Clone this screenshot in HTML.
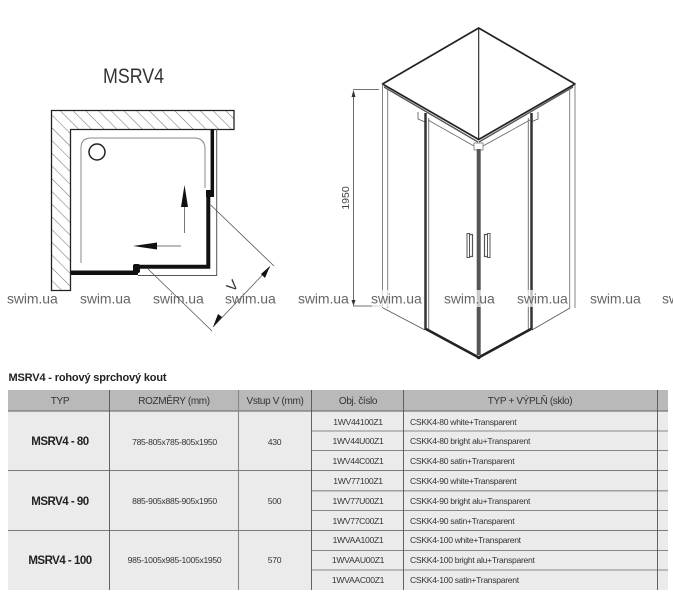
<!DOCTYPE html>
<html><head><meta charset="utf-8">
<style>
html,body{margin:0;padding:0;background:#fff;width:673px;height:600px;overflow:hidden}
svg{display:block}
text{font-family:"Liberation Sans",sans-serif}
.h{font-size:10px;fill:#333;text-anchor:middle;letter-spacing:-.35px}
.c{font-size:8.6px;fill:#333;text-anchor:middle;letter-spacing:-.3px}
.l{font-size:8.6px;fill:#333;letter-spacing:-.3px}
.b{font-size:11.5px;font-weight:bold;fill:#222;text-anchor:middle;letter-spacing:-.5px}
.w{font-size:14px;fill:#666;letter-spacing:-.1px}
</style></head><body>
<svg width="673" height="600" viewBox="0 0 673 600" xmlns="http://www.w3.org/2000/svg">
<defs>
<pattern id="hatch" width="9" height="9" patternUnits="userSpaceOnUse" patternTransform="rotate(-45)">
<rect width="9" height="9" fill="#fff"/><line x1="0" y1="0" x2="0" y2="9" stroke="#777" stroke-width="1.100"/>
</pattern>
</defs>
<text x="133.500" y="83" font-size="21" fill="#333" text-anchor="middle" textLength="61" lengthAdjust="spacingAndGlyphs">MSRV4</text>

<!-- plan -->
<path d="M51.500 110.500H234V129.500H70.500V290.500H51.500Z" fill="url(#hatch)" stroke="#222" stroke-width="1.300"/>
<path d="M81 263V148Q81 138 91 138H194Q205 138 205 149V188" fill="none" stroke="#888" stroke-width="1"/>
<circle cx="97" cy="152" r="8" fill="#fff" stroke="#222" stroke-width="1.500"/>
<path d="M216.700 129V275.500H138" fill="none" stroke="#555" stroke-width="1"/>
<path d="M71 272.700H138" stroke="#111" stroke-width="4.500"/>
<path d="M135 266.700H208.300V195" fill="none" stroke="#111" stroke-width="4"/>
<path d="M212.300 129V196" stroke="#111" stroke-width="3.500"/>
<rect x="206" y="190" width="8" height="7" fill="#111"/>
<rect x="133" y="264" width="7" height="9" rx="2" fill="#111"/>
<path d="M184.500 233V195" stroke="#777" stroke-width="1"/>
<path d="M184.500 185L181 207H188Z" fill="#111"/>
<path d="M181 246H156" stroke="#777" stroke-width="1"/>
<path d="M133 246L157 242.500V249.500Z" fill="#111"/>
<path d="M210.700 205L274 266M147 268L212 331" stroke="#555" stroke-width=".8"/>
<path d="M213 327L270 267" stroke="#555" stroke-width=".8"/>
<path d="M213 327L222 317L218 314ZM270 266L261 274L265 278Z" fill="#111"/>
<text x="0" y="0" font-size="14" fill="#333" transform="translate(236 289) rotate(-47) scale(1.100 1)" text-anchor="middle">V</text>

<!-- iso -->
<path d="M478.700 28L382.500 84L478.700 139.500L575 84Z" fill="#fff" stroke="#222" stroke-width="1.700" stroke-linejoin="round"/>
<path d="M478.700 28V139" stroke="#222" stroke-width="1.100"/>
<path d="M384 87L478 142M479 142L573 87" stroke="#555" stroke-width="1.400"/>
<path d="M382.500 84V308M387.700 90V308M575 84V308M569.700 90V308" stroke="#777" stroke-width=".9"/>
<path d="M383 308L425 330M570 308L532 330" stroke="#555" stroke-width=".8"/>
<path d="M418 112V119L425 122M538 112V119L531 122" fill="none" stroke="#555" stroke-width=".8"/>
<path d="M428 120L474 146M530 120L483 146" stroke="#666" stroke-width=".8"/>
<rect x="474" y="143" width="9" height="7" fill="#fff" stroke="#777" stroke-width=".8"/>
<path d="M425.500 113V330" stroke="#333" stroke-width="2.500"/>
<path d="M428.700 118V330" stroke="#777" stroke-width="1"/>
<path d="M531.500 113V330" stroke="#333" stroke-width="2.500"/>
<path d="M528.300 118V330" stroke="#777" stroke-width="1"/>
<path d="M478.700 149V355" stroke="#555" stroke-width="4"/>
<path d="M426 329L478.700 357.500L531 329" fill="none" stroke="#222" stroke-width="2.600" stroke-linejoin="round"/>
<circle cx="478.700" cy="357.500" r="1.800" fill="#222"/>
<rect x="467" y="233.500" width="2.500" height="24" fill="#fff" stroke="#555" stroke-width="1"/>
<path d="M469.500 234.500H472.500V256.500H469.500" fill="none" stroke="#555" stroke-width="1.200"/>
<rect x="487.500" y="233.500" width="2.500" height="24" fill="#fff" stroke="#555" stroke-width="1"/>
<path d="M487.500 234.500H484.500V256.500H487.500" fill="none" stroke="#555" stroke-width="1.200"/>
<path d="M353 89.500H379M353 306H382M353.500 92V304" stroke="#444" stroke-width=".8"/>
<path d="M353.500 90L351.500 97H355.500ZM353.500 306L351.500 300H355.500Z" fill="#333"/>
<text transform="translate(349 198) rotate(-90)" font-size="10.500" fill="#444" text-anchor="middle">1950</text>

<!-- watermark -->
<g fill="#fff" fill-opacity=".7">
<rect x="372" y="290" width="52" height="17"/><rect x="445" y="290" width="52" height="17"/><rect x="517" y="290" width="52" height="17"/>
</g>
<g class="w">
<text class="w" x="7" y="303.500">swim.ua</text><text class="w" x="80" y="303.500">swim.ua</text>
<text class="w" x="153" y="303.500">swim.ua</text><text class="w" x="225" y="303.500">swim.ua</text>
<text class="w" x="298" y="303.500">swim.ua</text><text class="w" x="371" y="303.500">swim.ua</text>
<text class="w" x="444" y="303.500">swim.ua</text><text class="w" x="517" y="303.500">swim.ua</text>
<text class="w" x="590" y="303.500">swim.ua</text><text class="w" x="662" y="303.500">swim.ua</text>
</g>

<!-- table -->
<text x="8.500" y="381" font-size="11" font-weight="bold" fill="#222" letter-spacing="-.16">MSRV4 - rohový sprchový kout</text>
<rect x="8" y="390" width="660" height="200" fill="#ebebeb"/>
<rect x="8" y="390" width="660" height="21" fill="#b9b9b9"/>
<path d="M8 411H668" stroke="#777" stroke-width="1.200"/>
<path d="M8 470.500H668M8 530.500H668" stroke="#555" stroke-width=".8"/>
<path d="M311 431H668M311 490.800H668M311 570H668" stroke="#888" stroke-width="1.100"/>
<path d="M311 450.500H668M311 510.500H668M311 550.500H668" stroke="#666" stroke-width=".8"/>
<path d="M109.500 390V590M311.500 390V590M403.500 390V590M657.500 390V590" stroke="#555" stroke-width=".9"/>
<path d="M238.500 390V590" stroke="#888" stroke-width="1.100"/>

<text class="h" x="60" y="404">TYP</text>
<text class="h" x="174" y="404">ROZMĚRY (mm)</text>
<text class="h" x="275" y="404">Vstup V (mm)</text>
<text class="h" x="358" y="404">Obj. číslo</text>
<text class="h" x="530" y="404">TYP + VÝPLŇ (sklo)</text>

<text class="b" x="60" y="445">MSRV4 - 80</text>
<text class="b" x="60" y="505">MSRV4 - 90</text>
<text class="b" x="60" y="564">MSRV4 - 100</text>
<text class="c" x="174.500" y="445">785-805x785-805x1950</text>
<text class="c" x="174.500" y="504">885-905x885-905x1950</text>
<text class="c" x="174.500" y="563">985-1005x985-1005x1950</text>
<text class="c" x="274.500" y="445">430</text>
<text class="c" x="274.500" y="504">500</text>
<text class="c" x="274.500" y="563">570</text>

<text class="c" x="358" y="425">1WV44100Z1</text><text class="l" x="410" y="425">CSKK4-80 white+Transparent</text>
<text class="c" x="358" y="444">1WV44U00Z1</text><text class="l" x="410" y="444">CSKK4-80 bright alu+Transparent</text>
<text class="c" x="358" y="464">1WV44C00Z1</text><text class="l" x="410" y="464">CSKK4-80 satin+Transparent</text>
<text class="c" x="358" y="484">1WV77100Z1</text><text class="l" x="410" y="484">CSKK4-90 white+Transparent</text>
<text class="c" x="358" y="504">1WV77U00Z1</text><text class="l" x="410" y="504">CSKK4-90 bright alu+Transparent</text>
<text class="c" x="358" y="524">1WV77C00Z1</text><text class="l" x="410" y="524">CSKK4-90 satin+Transparent</text>
<text class="c" x="358" y="543">1WVAA100Z1</text><text class="l" x="410" y="543">CSKK4-100 white+Transparent</text>
<text class="c" x="358" y="563">1WVAAU00Z1</text><text class="l" x="410" y="563">CSKK4-100 bright alu+Transparent</text>
<text class="c" x="358" y="583">1WVAAC00Z1</text><text class="l" x="410" y="583">CSKK4-100 satin+Transparent</text>
</svg>
</body></html>
